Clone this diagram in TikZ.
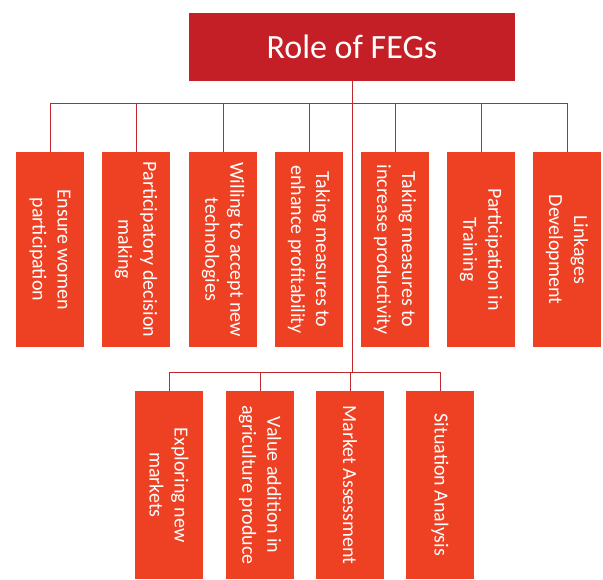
\documentclass[tikz,border=0pt]{standalone}
\usepackage{fontspec}
\setmainfont{Carlito}
\definecolor{titlered}{HTML}{C41F26}
\definecolor{boxorange}{HTML}{EE4023}
\definecolor{linered}{HTML}{C0272D}
\begin{document}
\begin{tikzpicture}[x=1pt,y=-1pt,
  titlebox/.style={fill=titlered, minimum width=326pt, minimum height=68pt, inner sep=0pt,
    text=white, font=\fontsize{34}{40}\selectfont},
  topbox/.style={fill=boxorange, minimum width=68pt, minimum height=195pt, inner sep=0pt},
  botbox/.style={fill=boxorange, minimum width=68pt, minimum height=188pt, inner sep=0pt},
  vtext/.style={rotate=-90, text=white, align=center, inner sep=0pt,
    font=\fontsize{20}{25}\selectfont},
  conn/.style={draw=linered, line width=0.9pt}]
\useasboundingbox (0,0) rectangle (603,579);

\node[titlebox] (title) at (352,47) {Role of FEGs};

\coordinate (bus) at (352,103);
\coordinate (bus2) at (352,372);

% top row
\node[topbox] (t1) at (50,249.5) {};
\node[topbox] (t2) at (136,249.5) {};
\node[topbox] (t3) at (223,249.5) {};
\node[topbox] (t4) at (309,249.5) {};
\node[topbox] (t5) at (395,249.5) {};
\node[topbox] (t6) at (481,249.5) {};
\node[topbox] (t7) at (567,249.5) {};

\node[vtext] (t1t) at (t1) {Ensure women\\participation};
\node[vtext] (t2t) at (t2) {Participatory decision\\making};
\node[vtext] (t3t) at (t3) {Willing to accept new\\technologies};
\node[vtext] (t4t) at (t4) {Taking measures to\\enhance profitability};
\node[vtext] (t5t) at (t5) {Taking measures to\\increase productivity};
\node[vtext] (t6t) at (t6) {Participation in\\Training};
\node[vtext] (t7t) at (t7) {Linkages\\Development};

% bottom row
\node[botbox] (b1) at (169,485) {};
\node[botbox] (b2) at (260,485) {};
\node[botbox] (b3) at (350,485) {};
\node[botbox] (b4) at (440,485) {};

\node[vtext] (b1t) at (b1) {Exploring new\\markets};
\node[vtext] (b2t) at (b2) {Value addition in\\agriculture produce};
\node[vtext] (b3t) at (b3) {Market Assessment};
\node[vtext] (b4t) at (b4) {Situation Analysis};

% connectors
\foreach \n in {t1,t2,t3,t4,t5,t6,t7} {
  \draw[conn] (\n.north) |- (bus);
}
\foreach \n in {b1,b2,b3,b4} {
  \draw[conn] (\n.north) |- (bus2);
}
\draw[conn] (title.south) -- (bus2);
\end{tikzpicture}
\end{document}
